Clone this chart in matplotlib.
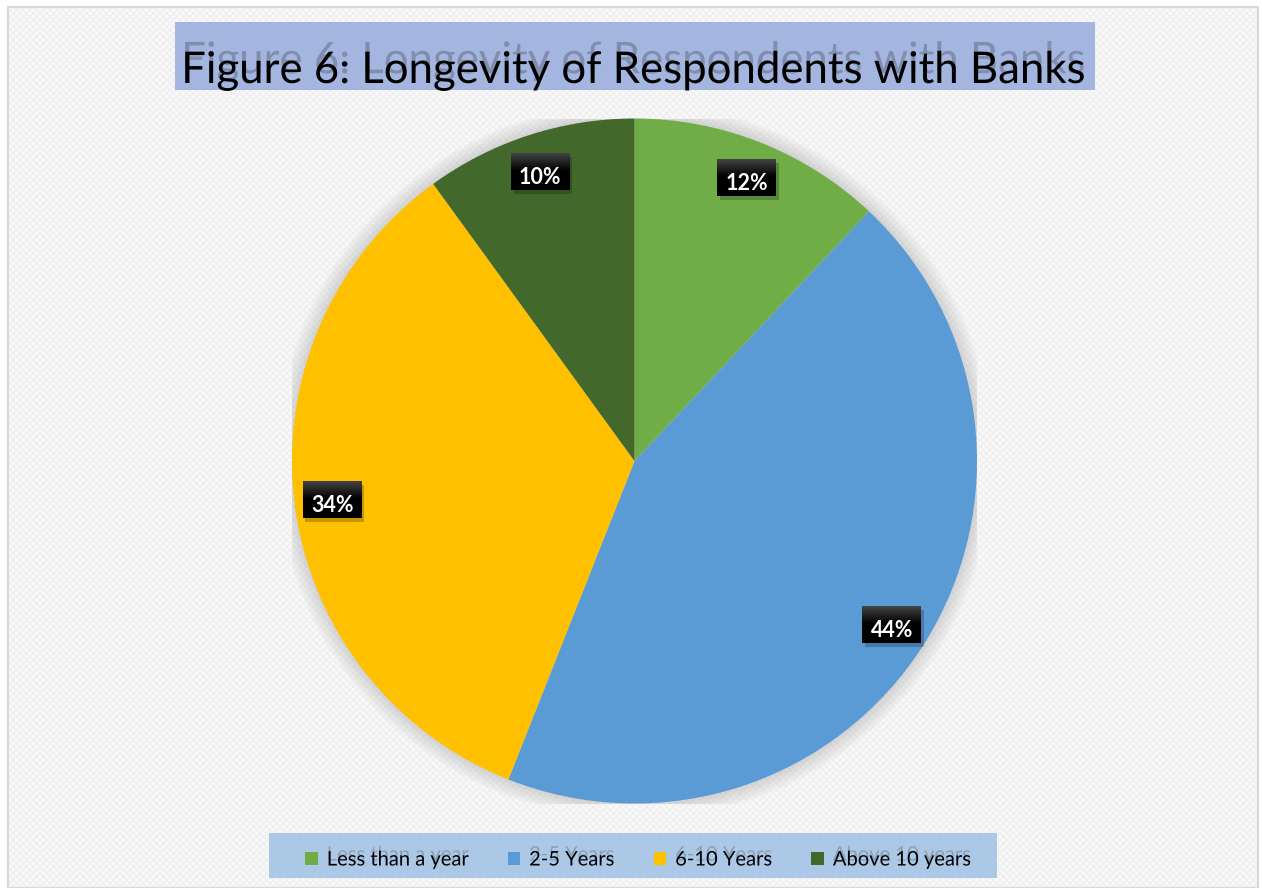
import matplotlib
matplotlib.use("Agg")
import matplotlib.pyplot as plt
import numpy as np
import matplotlib.patheffects as pe
from matplotlib.patches import Rectangle, Patch, Circle

# Survey data: how long respondents have banked with their bank
categories = ["Less than a year", "2-5 Years", "6-10 Years", "Above 10 years"]
shares = [12, 44, 34, 10]
slice_colors = ["#70ad47", "#5b9bd5", "#ffc000", "#43682b"]
chart_title = "Figure 6: Longevity of Respondents with Banks"

W, H = 1262, 888
fig = plt.figure(figsize=(W / 100, H / 100), dpi=100)
fig.patch.set_facecolor("white")
FONT = ["Lato", "DejaVu Sans"]

# chart area: faint textured fill inside a light grey frame
fig.add_artist(Rectangle((8 / W, 0), 1250 / W, 881 / H, transform=fig.transFigure,
                         facecolor="#f9f9f9", edgecolor="#efefef", lw=0,
                         hatch="xxxxx", zorder=0))
fig.add_artist(Rectangle((8 / W, 0), 1250 / W, 881 / H, transform=fig.transFigure,
                         facecolor="none", edgecolor="#d9d9d9", lw=1.6, zorder=0.1))

# title band
fig.add_artist(Rectangle((175 / W, 1 - 90 / H), 920 / W, 68 / H, transform=fig.transFigure,
                         facecolor="#a4b6df", edgecolor="none", zorder=1))
fig.text(634 / W, 1 - 83 / H, chart_title, ha="center", va="baseline",
         fontsize=31.5, family=FONT, color="black", zorder=2,
         path_effects=[pe.SimplePatchShadow(offset=(0, 7), shadow_rgbFace="#4a5266", alpha=0.4),
                       pe.Normal()])

# pie with a soft glow around its rim
ax = fig.add_axes([(634.5 - 342.5) / W, (888 - 803.5) / H, 685 / W, 685 / H])
ax.set_facecolor("none")
for i in range(16):
    ax.add_patch(Circle((0, 0), 1.0 + 0.003 * (i + 1), facecolor="#8a8a8a",
                        alpha=0.018, edgecolor="none", zorder=0))
wedges, _ = ax.pie(shares, colors=slice_colors, startangle=90, counterclock=False,
                   radius=1, wedgeprops=dict(edgecolor="none", zorder=1))

# value labels on dark gradient tags
bw, bh = 0.172, 0.108
grad = np.concatenate([np.linspace(0.26, 0.02, 14), np.zeros(16)]).reshape(-1, 1)
for w, v in zip(wedges, shares):
    ang = np.deg2rad((w.theta1 + w.theta2) / 2)
    x, y = 0.89 * np.cos(ang), 0.89 * np.sin(ang)
    ax.add_patch(Rectangle((x - bw / 2 + 0.008, y - bh / 2 - 0.012), bw, bh,
                           facecolor="#000000", alpha=0.22, edgecolor="none", zorder=4))
    ax.imshow(grad, extent=[x - bw / 2, x + bw / 2, y - bh / 2, y + bh / 2],
              cmap="gray", vmin=0, vmax=1, aspect="auto", zorder=5, interpolation="bilinear")
    ax.text(x, y - 0.018, f"{v}%", ha="center", va="center", color="white",
            fontsize=15.5, fontweight="bold", family=FONT, zorder=6)

ax.set_xlim(-1, 1)
ax.set_ylim(-1, 1)
ax.set_aspect("auto")
ax.axis("off")

# legend band along the bottom
fig.add_artist(Rectangle((269 / W, 1 - 878 / H), 728 / W, 45 / H, transform=fig.transFigure,
                         facecolor="#abc8e7", edgecolor="none", zorder=1))
handles = [Patch(facecolor=c, edgecolor="none") for c in slice_colors]
leg = fig.legend(handles, categories, loc="center",
                 bbox_to_anchor=(638 / W, 1 - 860 / H),
                 ncol=4, frameon=False, handlelength=0.62, handleheight=0.62,
                 handletextpad=0.45, columnspacing=1.95,
                 prop=dict(family=FONT, size=14.5))
for t in leg.get_texts():
    t.set_path_effects([pe.SimplePatchShadow(offset=(0, 3.5), shadow_rgbFace="#555555", alpha=0.35),
                        pe.Normal()])

fig.savefig("out.png", dpi=100)
